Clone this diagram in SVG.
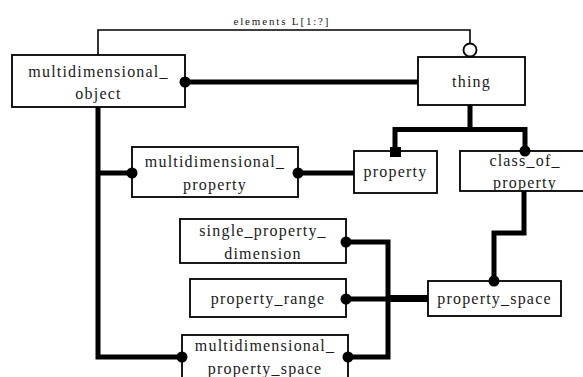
<svg xmlns="http://www.w3.org/2000/svg" width="583" height="377" viewBox="0 0 583 377">
<style>
.box{fill:#fff;stroke:#000;stroke-width:1.8}
.t{font-family:"Liberation Serif","Times New Roman",serif;font-size:16px;letter-spacing:1.2px;text-anchor:middle;fill:#1a1a1a}
.small{font-family:"Liberation Serif","Times New Roman",serif;font-size:11px;text-anchor:middle;fill:#1a1a1a}
.thick{fill:none;stroke:#000;stroke-width:5;stroke-linejoin:miter}
.thin{fill:none;stroke:#000;stroke-width:1.6}
.dot{fill:#000}
</style>
<rect width="583" height="377" fill="#fff"/>
<g id="multidimensional_object">
<rect class="box" x="12" y="55" width="173" height="52"/>
<text class="t" x="98.5" y="77">multidimensional_</text>
<text class="t" x="98.5" y="99">object</text>
</g>
<g id="thing">
<rect class="box" x="418" y="57" width="107" height="48"/>
<text class="t" x="471.5" y="87">thing</text>
</g>
<g id="multidimensional_property">
<rect class="box" x="132" y="147" width="166" height="50"/>
<text class="t" x="215" y="167">multidimensional_</text>
<text class="t" x="215" y="190">property</text>
</g>
<g id="property">
<rect class="box" x="354" y="151" width="83" height="42"/>
<text class="t" x="395.5" y="177">property</text>
</g>
<g id="class_of_property">
<rect class="box" x="460" y="151" width="130" height="40"/>
<text class="t" x="525" y="166">class_of_</text>
<text class="t" x="525" y="188">property</text>
</g>
<g id="single_property_dimension">
<rect class="box" x="180" y="219" width="166" height="44"/>
<text class="t" x="263" y="236">single_property_</text>
<text class="t" x="263" y="259">dimension</text>
</g>
<g id="property_range">
<rect class="box" x="190" y="279" width="156" height="38"/>
<text class="t" x="268" y="304">property_range</text>
</g>
<g id="property_space">
<rect class="box" x="428" y="281" width="133" height="35"/>
<text class="t" x="494.5" y="304">property_space</text>
</g>
<g id="multidimensional_property_space">
<rect class="box" x="182" y="335" width="166" height="50"/>
<text class="t" x="265" y="351">multidimensional_</text>
<text class="t" x="265" y="374">property_space</text>
</g>
<g id="connectors">
<path class="thin" d="M98,55 V30 H470 V43"/>
<circle cx="470" cy="50" r="6.5" fill="#fff" stroke="#000" stroke-width="1.8"/>
<text class="small" x="281" y="25" textLength="95" lengthAdjust="spacing">elements L[1:?]</text>
<path class="thick" d="M185,82 H418"/>
<path class="thick" d="M470,105 V129.5 M395,152 V129.5 H525 V151"/>
<path class="thick" d="M98,107 V357 H182"/>
<path class="thick" d="M98,173 H132"/>
<path class="thick" d="M298,173 H354"/>
<path class="thick" d="M524,191 V233 H494 V281"/>
<path class="thick" d="M346,299 H388"/>
<path fill="none" stroke="#000" stroke-width="7" d="M386,298.5 H428"/>
<path class="thick" d="M346,242 H388 V357 H348"/>
<circle class="dot" cx="185" cy="82" r="5.5"/>
<circle class="dot" cx="132" cy="173" r="5.5"/>
<circle class="dot" cx="298" cy="173" r="5.5"/>
<rect class="dot" x="390" y="147" width="11" height="10"/>
<circle class="dot" cx="525" cy="151" r="5.5"/>
<circle class="dot" cx="494" cy="281" r="5.5"/>
<circle class="dot" cx="346" cy="242" r="5.5"/>
<circle class="dot" cx="346" cy="299" r="5.5"/>
<circle class="dot" cx="182" cy="357" r="5.5"/>
<circle class="dot" cx="348" cy="357" r="5.5"/>
</g>
</svg>
